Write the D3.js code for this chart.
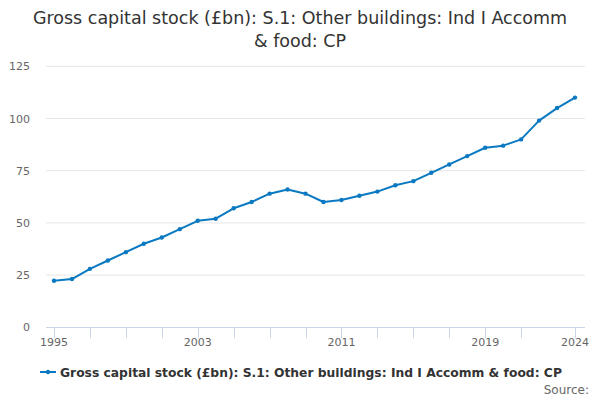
<!DOCTYPE html>
<html><head><meta charset="utf-8">
<script src="https://cdn.jsdelivr.net/npm/d3@7"></script>
<style>body{margin:0;background:#fff}svg{display:block;font-family:"DejaVu Sans",sans-serif}</style>
</head><body><svg id="c" width="600" height="400"></svg>
<script>
const years = d3.range(1995, 2025);
const values = [22.3, 23.1, 28, 32, 36, 40, 43, 47, 51, 52, 57, 60, 64, 66, 64, 60, 61, 63, 65, 68, 70, 74, 78, 82, 86, 87, 90, 99, 105, 110];
const yTicks = [0, 25, 50, 75, 100, 125];
const xTickMarks = [1995, 1997, 1999, 2001, 2003, 2005, 2007, 2009, 2011, 2013, 2015, 2017, 2019, 2021, 2024];
const xTickLabels = [1995, 2003, 2011, 2019, 2024];
const titleLines = ["Gross capital stock (£bn): S.1: Other buildings: Ind I Accomm", "& food: CP"];
const seriesName = "Gross capital stock (£bn): S.1: Other buildings: Ind I Accomm & food: CP";
const color = "#0b79c1";

const svg = d3.select("#c");
const x = d3.scaleLinear().domain([1995, 2024]).range([54, 575]);
const y = d3.scaleLinear().domain([0, 125]).range([327.3, 66.3]);
const left = 46, right = 585;

svg.append("g").selectAll("text").data(titleLines).join("text")
  .attr("x", 300).attr("y", (d, i) => 24 + i * 23)
  .attr("text-anchor", "middle").attr("font-size", 17.5).attr("fill", "#333").text(d => d);

svg.append("g").selectAll("line").data(yTicks.filter(d => d > 0)).join("line")
  .attr("x1", left).attr("x2", right).attr("y1", d => y(d)).attr("y2", d => y(d))
  .attr("stroke", "#e6e6e6").attr("stroke-width", 1);

svg.append("g").selectAll("text").data(yTicks).join("text")
  .attr("x", 30).attr("y", d => y(d) + 4).attr("text-anchor", "end")
  .attr("font-size", 11).attr("fill", "#666").text(d => d);

svg.append("line").attr("x1", left).attr("x2", right).attr("y1", 327.5).attr("y2", 327.5)
  .attr("stroke", "#ccd6eb").attr("stroke-width", 1);
svg.append("g").selectAll("line").data(xTickMarks).join("line")
  .attr("x1", d => Math.round(x(d)) + 0.5).attr("x2", d => Math.round(x(d)) + 0.5)
  .attr("y1", 327.5).attr("y2", 338).attr("stroke", "#ccd6eb").attr("stroke-width", 1);
svg.append("g").selectAll("text").data(xTickLabels).join("text")
  .attr("x", d => x(d)).attr("y", 346).attr("text-anchor", "middle")
  .attr("font-size", 11).attr("fill", "#666").text(d => d);

const line = d3.line().x((d, i) => x(years[i])).y(d => y(d));
svg.append("path").datum(values).attr("d", line).attr("fill", "none")
  .attr("stroke", color).attr("stroke-width", 2).attr("stroke-linejoin", "round");
svg.append("g").selectAll("circle").data(values).join("circle")
  .attr("cx", (d, i) => x(years[i])).attr("cy", d => y(d)).attr("r", 2.2).attr("fill", color);

const lg = svg.append("g");
lg.append("line").attr("x1", 40).attr("x2", 56).attr("y1", 372).attr("y2", 372).attr("stroke", color).attr("stroke-width", 2);
lg.append("circle").attr("cx", 48).attr("cy", 372).attr("r", 2.2).attr("fill", color);
lg.append("text").attr("x", 60).attr("y", 376.5).attr("font-size", 12.3).attr("font-weight", "bold").attr("fill", "#333").text(seriesName);

svg.append("text").attr("x", 589).attr("y", 394).attr("text-anchor", "end").attr("font-size", 12).attr("fill", "#666").text("Source:");
</script></body></html>
